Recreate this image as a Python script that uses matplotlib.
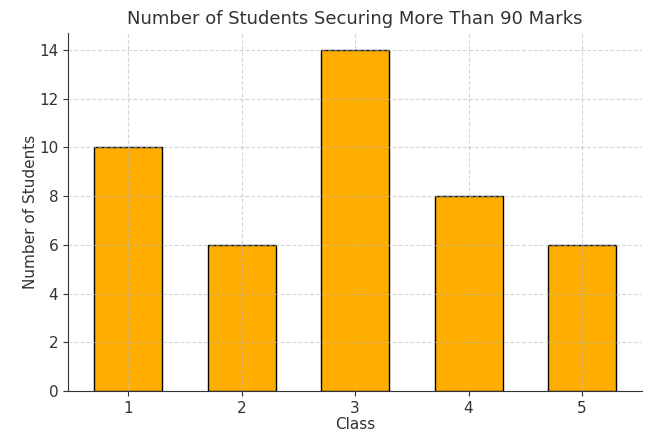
import matplotlib.pyplot as plt

# Data
classes = [1, 2, 3, 4, 5]
students = [10, 6, 14, 8, 6]
class_labels = ['1', '2', '3', '4', '5']

fig, ax = plt.subplots(figsize=(6.6, 4.32), dpi=100)
fig.subplots_adjust(left=0.103, right=0.973, bottom=0.095, top=0.924)

ax.bar(classes, students, width=0.6, color='#FFAE00', edgecolor='black', linewidth=1)

ax.set_xticks(classes)
ax.set_xticklabels(class_labels)

txt = '#333333'
ax.set_title('Number of Students Securing More Than 90 Marks', fontsize=13, color=txt)
ax.set_xlabel('Class', fontsize=11, color=txt, labelpad=1)
ax.set_ylabel('Number of Students', fontsize=11, color=txt, labelpad=1)
ax.tick_params(colors=txt, labelsize=11)

ax.grid(True, linestyle='--', color='#bbbbbb', alpha=0.6, linewidth=0.8)
ax.set_axisbelow(False)

for side in ['top', 'right']:
    ax.spines[side].set_visible(False)
for side in ['left', 'bottom']:
    ax.spines[side].set_color(txt)

plt.savefig('out.png')
